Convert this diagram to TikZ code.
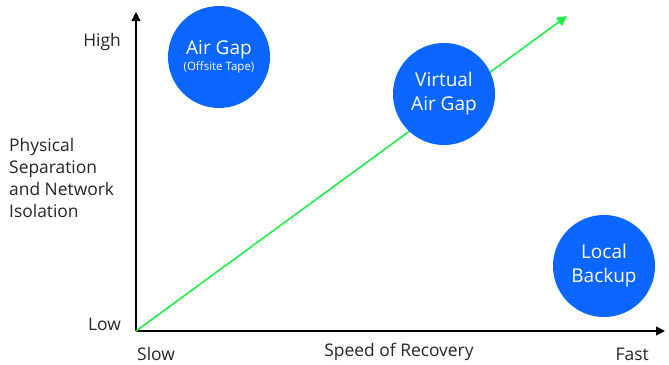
\documentclass[tikz,border=0pt]{standalone}
\usepackage{fontspec}
\setmainfont{Open Sans}
\usetikzlibrary{arrows.meta}
\definecolor{bub}{HTML}{0A66FF}
\definecolor{grn}{HTML}{22EE4A}
\begin{document}
\begin{tikzpicture}[x=1pt,y=-1pt,
  bubble/.style={circle,fill=bub,draw=none,minimum size=102pt,inner sep=0pt,text=white,align=center,font=\fontsize{19}{24}\selectfont},
  lbl/.style={font=\fontsize{17.4}{22}\selectfont,text=black!85,inner sep=0pt},
  axis/.style={line width=1.3pt,-{Triangle[length=9pt,width=9pt]}}]
\useasboundingbox (0,0) rectangle (669,364);
\coordinate (o) at (136,331);
\coordinate (ytip) at (136,12);
\coordinate (xtip) at (665,331);
\coordinate (gtip) at (567,16);
\draw[axis] (o) -- (ytip);
\draw[axis] (o) -- (xtip);
\draw[grn,line width=1.6pt,-{Triangle[length=10pt,width=10pt]}] (o) -- (gtip);
\node[bubble] (ag) at (219,57) {Air Gap\\[-8pt]{\fontsize{11.5}{13}\selectfont (Offsite Tape)}};
\node[bubble] (vag) at (444,94) {Virtual\\Air Gap};
\node[bubble] (lb) at (604,266) {Local\\Backup};
\node[lbl,anchor=east] (high) at (121,42) {High};
\node[lbl,anchor=east] (low) at (121,324) {Low};
\node[lbl,anchor=west] (slow) at (137,354) {Slow};
\node[lbl,anchor=east] (fast) at (649,354) {Fast};
\node[lbl] (xl) at (399,352) {Speed of Recovery};
\node[lbl,anchor=west,align=left] (yl) at (9,178) {Physical\\Separation\\and Network\\Isolation};
\end{tikzpicture}
\end{document}
